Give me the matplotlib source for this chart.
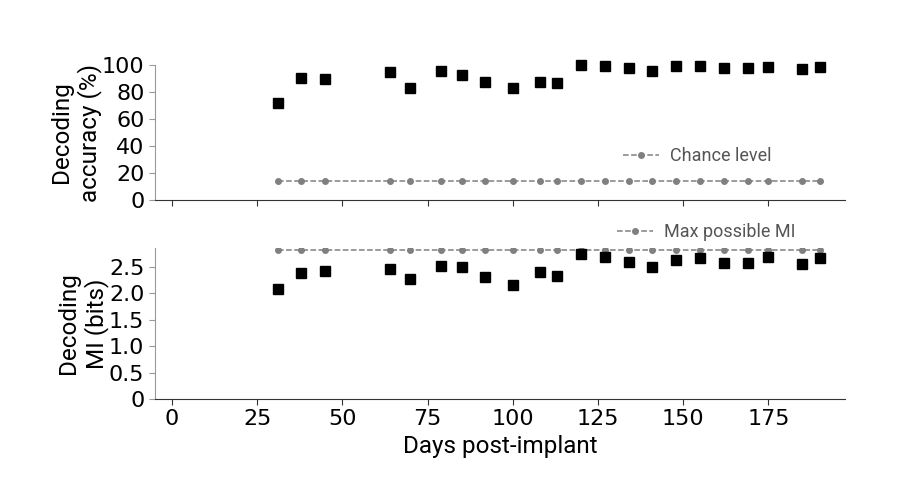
import numpy as np
import matplotlib.pyplot as plt

days = [31, 38, 45, 64, 70, 79, 85, 92, 100, 108, 113, 120, 127, 134, 141,
        148, 155, 162, 169, 175, 185, 190]
accuracy = [72.2, 90.7, 89.7, 95.1, 82.8, 95.3, 92.6, 87.7, 83.3, 87.7, 86.7,
            100.0, 99.5, 98.0, 95.8, 99.0, 99.5, 98.0, 98.0, 98.8, 97.0, 98.8]
mi_bits = [2.08, 2.37, 2.42, 2.46, 2.27, 2.51, 2.49, 2.30, 2.15, 2.39, 2.33,
           2.73, 2.68, 2.59, 2.50, 2.63, 2.66, 2.56, 2.56, 2.68, 2.54, 2.66]
n_classes = 7
chance = 100.0 / n_classes
max_mi = np.log2(n_classes)

x_ticks = [0, 25, 50, 75, 100, 125, 150, 175]
acc_ticks = [0, 20, 40, 60, 80, 100]
mi_ticks = [0, 0.5, 1.0, 1.5, 2.0, 2.5]
mi_tick_labels = ['0', '0.5', '1.0', '1.5', '2.0', '2.5']

label_font = 'Roboto'
fig = plt.figure(figsize=(9, 5), dpi=100)
ax1 = fig.add_axes([0.172, 0.6, 0.767, 0.27])
ax2 = fig.add_axes([0.172, 0.202, 0.767, 0.302])

for ax in (ax1, ax2):
    ax.spines['top'].set_visible(False)
    ax.spines['right'].set_visible(False)
    ax.spines['left'].set_color('#999999')
    ax.spines['bottom'].set_color('#333333')
    ax.tick_params(axis='y', colors='#999999', labelcolor='black', labelsize=16, length=4)
    ax.tick_params(axis='x', colors='#333333', labelcolor='black', labelsize=16, length=4)
    ax.set_xlim(-5, 197.5)
    ax.set_xticks(x_ticks)

leg_style = dict(frameon=False, prop={'family': label_font, 'size': 13},
                 labelcolor='#555555', handlelength=2.0, handletextpad=0.6,
                 borderaxespad=0)

# accuracy panel
ax1.plot(days, [chance] * len(days), '--o', color='#808080', lw=1.1, ms=4,
         label='Chance level')
ax1.plot(days, accuracy, 's', color='black', ms=7.5, ls='none', clip_on=False)
ax1.set_ylim(0, 100)
ax1.set_yticks(acc_ticks)
ax1.set_xticklabels([])
ax1.set_ylabel('Decoding\naccuracy (%)', fontsize=17.5, family=label_font, labelpad=0)
ax1.legend(loc='center right', bbox_to_anchor=(0.904, 0.326), **leg_style)

# MI panel
ax2.plot(days, [max_mi] * len(days), '--o', color='#808080', lw=1.1, ms=4,
         label='Max possible MI')
ax2.plot(days, mi_bits, 's', color='black', ms=7.5, ls='none', clip_on=False)
ax2.set_ylim(0, 2.85)
ax2.set_yticks(mi_ticks)
ax2.set_yticklabels(mi_tick_labels)
ax2.set_xticklabels([str(t) for t in x_ticks])
ax2.set_ylabel('Decoding\nMI (bits)', fontsize=17.5, family=label_font, labelpad=0)
ax2.set_xlabel('Days post-implant', fontsize=17.5, family=label_font)
ax2.legend(loc='center right', bbox_to_anchor=(0.938, 1.106), **leg_style)

fig.align_ylabels([ax1, ax2])
fig.savefig('out.png', dpi=100)
